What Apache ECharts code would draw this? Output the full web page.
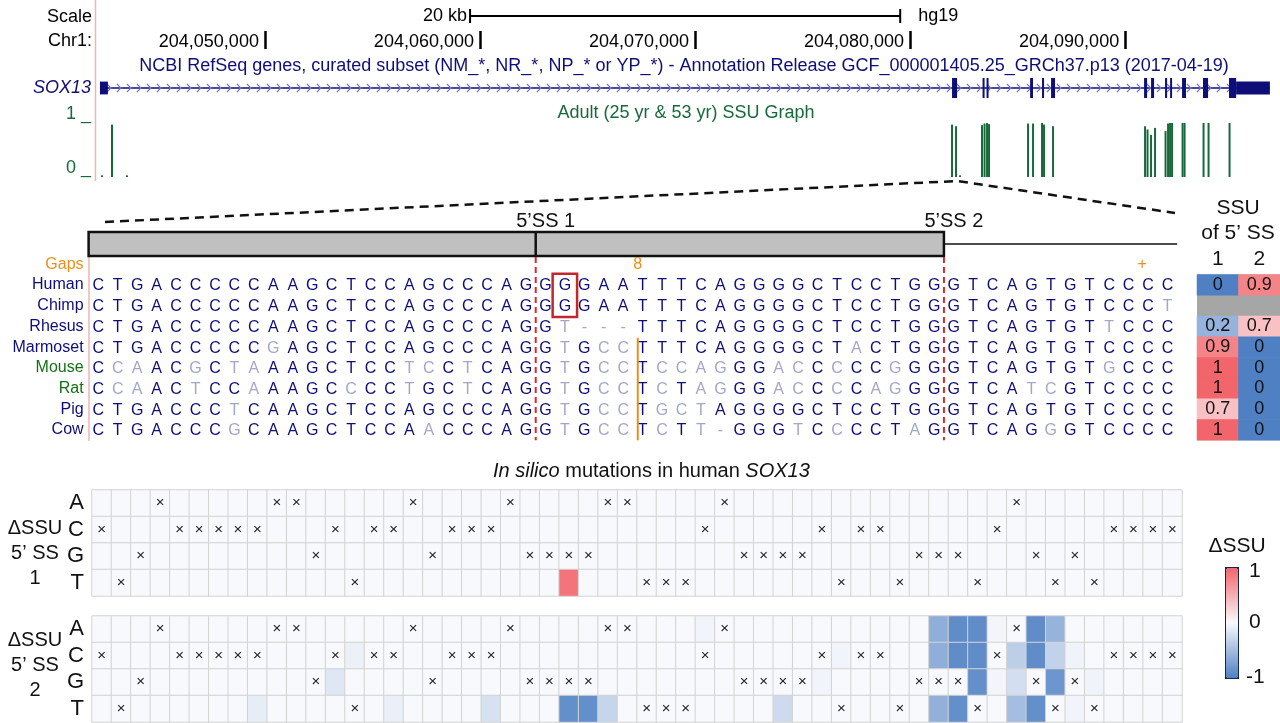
<!DOCTYPE html>
<html>
<head>
<meta charset="utf-8">
<title>SOX13 5' splice site usage</title>
<script src="https://cdn.jsdelivr.net/npm/echarts@6/dist/echarts.min.js"></script>
<style>
  html, body { margin: 0; padding: 0; background: #fff; }
  #chart { width: 1280px; height: 723px; }
</style>
</head>
<body>
<div id="chart"></div>
<script>
// ---- genome browser view (hg19, chr1) ----
const viewStart = 204042100
const viewEnd = 204097200
const rulerTicks = [204050000, 204060000, 204070000, 204080000, 204090000]
const scaleBar = [204059540, 204079540]

// SOX13 exons: [start, end, coding 1 / UTR 0]
const exons = [
  [204042330, 204042700, 0],
  [204081950, 204082185, 1],
  [204083370, 204083440, 1],
  [204083555, 204083625, 1],
  [204085580, 204085715, 1],
  [204086135, 204086230, 1],
  [204086555, 204086740, 1],
  [204090880, 204091020, 1],
  [204091205, 204091345, 1],
  [204091855, 204091950, 1],
  [204092090, 204092180, 1],
  [204092645, 204092830, 1],
  [204093620, 204093855, 1],
  [204094830, 204095160, 1],
  [204095160, 204096730, 0]
]
const geneSpan = [204042330, 204096730]

// adult (25 yr & 53 yr) SSU graph
const ssuPositions = [
  204042425, 204042890, 204043588, 204081950, 204082136, 204082322,
  204083345, 204083462, 204083578, 204083671, 204085484, 204085717,
  204086135, 204086228, 204086647, 204090925, 204091041, 204091204,
  204091390, 204091878, 204091995, 204092088, 204092181, 204092669,
  204092762, 204093645, 204093878, 204094854
]
const ssuValues = [
  0.03, 0.97, 0.03, 0.97, 0.94, 0.03,
  0.96, 0.99, 1.0, 0.98, 0.99, 0.99,
  1.0, 0.97, 0.94, 0.94, 0.88, 0.78,
  0.91, 0.85, 0.99, 1.0, 1.0, 1.0,
  1.0, 1.0, 1.0, 1.0
]

// ---- multiple alignment around the two 5' splice sites ----
const species = ['Human', 'Chimp', 'Rhesus', 'Marmoset', 'Mouse', 'Rat', 'Pig', 'Cow']
const alignment = [
  'CTGACCCCCAAGCTCCAGCCCAG' + 'GGGAATTTCAGGGGCTCCTGG' + 'GTCAGTGTCCCC',
  'CTGACCCCCAAGCTCCAGCCCAG' + 'GGGAATTTCAGGGGCTCCTGG' + 'GTCAGTGTCCCT',
  'CTGACCCCCAAGCTCCAGCCCAG' + 'GT---TTTCAGGGGCTCCTGG' + 'GTCAGTGTTCCC',
  'CTGACCCCCGAGCTCCAGCCCAG' + 'GTGCCTTTCAGGGGCTACTGG' + 'GTCAGTGTCCCC',
  'CCAACGCTAAAGCTCCTCCTCAG' + 'GTGCCTCCAGGGACCCCCGGG' + 'GTCAGTGTGCCC',
  'CCAACTCCAAAGCCCCTGCTCAG' + 'GTGCCTCTAGGGACCCCAGGG' + 'GTCATCGTCCCC',
  'CTGACCCTCAAGCTCCAGCCCAG' + 'GTGCCTGCTAGGGGCTCCTGG' + 'GTCAGTGTCCCC',
  'CTGACCCGCAAGCTCCAACCCAG' + 'GTGCCTCTT-GGGTCCCCTAG' + 'GTCAGGGTCCCC'
]
const spliceSites = [22.5, 43.5]
const spliceNames = ['5\u2019SS 1', '5\u2019SS 2']
const gapMarks = [27.75, 53.7]
const gapLabels = ['8', '+']
const insertion = [27.75, 4, 8]      // column, first row, last row
const highlight = [24, 1, 2]         // column, rows Human..Chimp

// SSU of 5'SS 1 and 2 per species (null = not available)
const ssu1 = [0, null, 0.2, 0.9, 1, 1, 0.7, 1]
const ssu2 = [0.9, null, 0.7, 0, 0, 0, 0, 0]

// ---- in silico mutations in human SOX13: [column, base, dSSU] ----
const bases = ['A', 'C', 'G', 'T']
const deltaSS1 = [[24, 'T', 0.9]]
const deltaSS2 = [
  [8, 'T', -0.1], [12, 'G', -0.15], [13, 'C', -0.07], [15, 'T', -0.08], [20, 'T', -0.2],
  [24, 'T', -0.88], [25, 'T', -0.88], [26, 'T', -0.3], [31, 'A', -0.04], [35, 'T', -0.25],
  [37, 'G', -0.04], [38, 'C', -0.04],
  [43, 'A', -0.62], [44, 'A', -0.9], [45, 'A', -0.9], [46, 'A', -0.03], [48, 'A', -0.9], [49, 'A', -0.58],
  [43, 'C', -0.62], [44, 'C', -0.9], [45, 'C', -0.9], [47, 'C', -0.35], [48, 'C', -0.9], [49, 'C', -0.32], [50, 'C', -0.05],
  [45, 'G', -0.88], [46, 'G', -0.03], [47, 'G', -0.22], [49, 'G', -0.82], [51, 'G', -0.05],
  [43, 'T', -0.6], [44, 'T', -0.88], [47, 'T', -0.5], [48, 'T', -0.88], [50, 'T', -0.04]
]

const NAVY = '#0e0e78'
const LIGHT = '#a3a7c8'
const GREEN = '#17693a'
const ORANGE = '#e8901c'
const FONT = 'Liberation Sans'
const human = alignment[0]
const nCols = human.length

const letterCells = []
alignment.forEach((seq, r) => {
  seq.split('').forEach((ch, c) => {
    letterCells.push({ value: [c, r + 1], ch, diff: ch !== human[c] })
  })
})

function deltaGrid(list) {
  const out = []
  for (let c = 0; c < nCols; c++) {
    bases.forEach((b, bi) => {
      const hit = list.find(d => d[0] === c && d[1] === b)
      out.push([c, bi, hit ? hit[2] : 0])
    })
  }
  return out
}

// missing values are left out; the grey grid background shows through
const tableData = []
species.forEach((s, r) => {
  tableData.push([0, r, ssu1[r] === null ? '-' : ssu1[r]])
  tableData.push([1, r, ssu2[r] === null ? '-' : ssu2[r]])
})

const rowColors = { Gaps: ORANGE, Mouse: '#147014', Rat: '#147014' }
const cols = Array.from({ length: nCols }, (_, i) => String(i))

function txt(text, x, y, opts) {
  return {
    type: 'text', x, y,
    style: Object.assign({ text, fill: '#111', font: '18px "' + FONT + '"', align: 'left', verticalAlign: 'middle' }, opts || {})
  }
}

function bandTop(api) {
  return api.coord([0, 0])[1] - api.size([0, 1])[1] / 2
}

const chart = echarts.init(document.getElementById('chart'))

const heatLabel = {
  show: true,
  fontSize: 15,
  fontFamily: FONT,
  color: '#222',
  formatter: p => (bases[p.value[1]] === human[p.value[0]] ? '\u00d7' : '')
}

const baseAxis = gridIndex => ({
  type: 'category', gridIndex, data: bases, inverse: true,
  axisLine: { show: false }, axisTick: { show: false },
  axisLabel: { interval: 0, fontSize: 22, margin: 8, color: '#111' }
})

chart.setOption({
  animation: false,
  textStyle: { fontFamily: FONT },
  title: {
    text: '{i|In silico} mutations in human {i|SOX13}',
    left: 488,
    top: 456,
    textStyle: {
      fontSize: 20, fontWeight: 'normal', color: '#111', fontFamily: FONT,
      rich: { i: { fontStyle: 'italic', fontSize: 20, color: '#111', fontFamily: FONT } }
    }
  },
  grid: [
    { left: 95, top: 123, width: 1185, height: 54, outerBoundsMode: 'none' },
    { left: 95, top: 78, width: 1185, height: 20, outerBoundsMode: 'none' },
    { left: 95, top: 31, width: 1185, height: 18, outerBoundsMode: 'none' },
    { left: 88.6, top: 254, width: 1088.6, height: 186.3, outerBoundsMode: 'none' },
    { left: 1197, top: 274.6, width: 83, height: 165.6, outerBoundsMode: 'none', show: true, backgroundColor: '#a6a6a6', borderWidth: 0 },
    { left: 92, top: 490, width: 1090, height: 106, outerBoundsMode: 'none' },
    { left: 92, top: 616, width: 1090, height: 106, outerBoundsMode: 'none' }
  ],
  xAxis: [
    { type: 'value', gridIndex: 0, min: viewStart, max: viewEnd, show: false },
    { type: 'value', gridIndex: 1, min: viewStart, max: viewEnd, show: false },
    {
      type: 'value', gridIndex: 2, min: viewStart, max: viewEnd, position: 'bottom',
      axisLine: { show: false }, splitLine: { show: false },
      axisTick: { show: true, customValues: rulerTicks, inside: true, length: 18, lineStyle: { color: '#000', width: 2.5 } },
      axisLabel: {
        show: true, customValues: rulerTicks, inside: true, margin: 7, align: 'right', verticalAlign: 'middle',
        padding: [0, 6, 0, 0], fontSize: 18, color: '#000',
        formatter: v => Number(v).toLocaleString('en-US')
      }
    },
    { type: 'value', gridIndex: 3, min: -0.5, max: nCols - 0.5, show: false },
    {
      type: 'category', gridIndex: 4, data: ['1', '2'], position: 'top',
      axisLine: { show: false }, axisTick: { show: false },
      axisLabel: { interval: 0, fontSize: 21, margin: 5, color: '#111' }
    },
    { type: 'category', gridIndex: 5, data: cols, show: false },
    { type: 'category', gridIndex: 6, data: cols, show: false }
  ],
  yAxis: [
    {
      type: 'value', gridIndex: 0, min: 0, max: 1,
      axisLine: { show: false }, axisTick: { show: false }, splitLine: { show: false },
      axisLabel: { customValues: [0, 1], formatter: '{value} _', verticalAlign: 'bottom', margin: 4, color: GREEN, fontSize: 18 }
    },
    { type: 'value', gridIndex: 1, min: 0, max: 1, show: false },
    { type: 'value', gridIndex: 2, min: 0, max: 1, show: false },
    {
      type: 'category', gridIndex: 3, data: ['Gaps'].concat(species), inverse: true,
      axisLine: { show: false }, axisTick: { show: false },
      axisLabel: { interval: 0, fontSize: 16, margin: 5, color: v => rowColors[v] || NAVY }
    },
    { type: 'category', gridIndex: 4, data: species, inverse: true, show: false },
    baseAxis(5),
    baseAxis(6)
  ],
  visualMap: [
    {
      type: 'continuous', seriesIndex: [10, 11], min: -1, max: 1, calculable: false,
      left: 1225, top: 567, itemWidth: 12, itemHeight: 110, padding: 0,
      borderColor: '#16254a', borderWidth: 2, showLabel: false, hoverLink: false,
      inRange: { color: ['#4f80c4', '#f8f9fc', '#f2656b'] }
    },
    {
      type: 'continuous', seriesIndex: 9, min: 0, max: 1, show: false,
      inRange: { color: ['#4f80c4', '#ffffff', '#f2656b'] }
    }
  ],
  series: [
    {
      type: 'bar', xAxisIndex: 0, yAxisIndex: 0, barWidth: 2,
      itemStyle: { color: GREEN },
      data: ssuPositions.map((p, i) => [p, ssuValues[i]])
    },
    {
      type: 'custom', xAxisIndex: 1, yAxisIndex: 1, data: [geneSpan],
      renderItem: (params, api) => {
        const a = api.coord([api.value(0), 0.5])
        const b = api.coord([api.value(1), 0.5])
        const children = [{ type: 'line', shape: { x1: a[0], y1: a[1], x2: b[0], y2: b[1] }, style: { stroke: NAVY, lineWidth: 1.5 } }]
        for (let x = a[0] + 10; x < b[0] - 4; x += 10) {
          children.push({
            type: 'polyline',
            shape: { points: [[x - 3, a[1] - 4], [x + 1, a[1]], [x - 3, a[1] + 4]] },
            style: { stroke: '#7a7ac4', lineWidth: 1.2, fill: null }
          })
        }
        return { type: 'group', children }
      }
    },
    {
      type: 'custom', xAxisIndex: 1, yAxisIndex: 1, data: exons,
      renderItem: (params, api) => {
        const coding = api.value(2)
        const p0 = api.coord([api.value(0), coding ? 1 : 0.82])
        const p1 = api.coord([api.value(1), coding ? 0 : 0.18])
        return {
          type: 'rect',
          shape: { x: p0[0], y: p0[1], width: Math.max(p1[0] - p0[0], 2), height: p1[1] - p0[1] },
          style: { fill: NAVY }
        }
      }
    },
    {
      type: 'custom', xAxisIndex: 2, yAxisIndex: 2, data: [scaleBar],
      renderItem: (params, api) => {
        const a = api.coord([api.value(0), 1])
        const b = api.coord([api.value(1), 1])
        const y = a[1] - 15
        const kb = Math.round((api.value(1) - api.value(0)) / 1000)
        return {
          type: 'group', children: [
            { type: 'line', shape: { x1: a[0], y1: y, x2: b[0], y2: y }, style: { stroke: '#000', lineWidth: 2 } },
            { type: 'line', shape: { x1: a[0], y1: y - 7, x2: a[0], y2: y + 7 }, style: { stroke: '#000', lineWidth: 2 } },
            { type: 'line', shape: { x1: b[0], y1: y - 7, x2: b[0], y2: y + 7 }, style: { stroke: '#000', lineWidth: 2 } },
            txt(kb + ' kb', a[0] - 3, y, { align: 'right', fill: '#000' }),
            txt('hg19', b[0] + 18, y, { fill: '#000' })
          ]
        }
      }
    },
    {
      type: 'custom', xAxisIndex: 3, yAxisIndex: 3, data: [[-0.5, spliceSites[0], spliceSites[1], nCols - 0.5]],
      renderItem: (params, api) => {
        const top = bandTop(api)
        const x0 = api.coord([api.value(0), 0])[0]
        const xd = api.coord([api.value(1), 0])[0]
        const x1 = api.coord([api.value(2), 0])[0]
        const x2 = api.coord([api.value(3), 0])[0]
        return {
          type: 'group', children: [
            { type: 'rect', shape: { x: x0, y: top - 22, width: x1 - x0, height: 24 }, style: { fill: '#c0c0c0', stroke: '#111', lineWidth: 2.5 } },
            { type: 'line', shape: { x1: xd, y1: top - 22, x2: xd, y2: top + 2 }, style: { stroke: '#111', lineWidth: 2.5 } },
            { type: 'line', shape: { x1: x1, y1: top - 10, x2: x2, y2: top - 10 }, style: { stroke: '#111', lineWidth: 1.5 } }
          ]
        }
      }
    },
    {
      type: 'custom', xAxisIndex: 3, yAxisIndex: 3, data: spliceSites.map(s => [s, 0]),
      renderItem: (params, api) => {
        const rowH = api.size([0, 1])[1]
        const top = bandTop(api)
        const bottom = api.coord([0, species.length])[1] + rowH / 2
        const x = api.coord([api.value(0), 0])[0]
        return {
          type: 'group', children: [
            { type: 'line', shape: { x1: x, y1: top + 3, x2: x, y2: bottom }, style: { stroke: '#d8282c', lineWidth: 2, lineDash: [6, 4] } },
            txt(spliceNames[params.dataIndex], x + 10, top - 33, { align: 'center', font: '20px "' + FONT + '"', fill: '#111' })
          ]
        }
      }
    },
    {
      type: 'custom', xAxisIndex: 3, yAxisIndex: 3, data: letterCells.map(d => d.value),
      renderItem: (params, api) => {
        const cell = letterCells[params.dataIndex]
        const p = api.coord([api.value(0), api.value(1)])
        return {
          type: 'text', x: p[0], y: p[1] + 1,
          style: {
            text: cell.ch, fill: cell.diff ? LIGHT : NAVY, font: '16px "' + FONT + '"',
            align: 'center', verticalAlign: 'middle', textAlign: 'center', textVerticalAlign: 'middle'
          }
        }
      }
    },
    {
      type: 'custom', xAxisIndex: 3, yAxisIndex: 3, data: gapMarks.map(g => [g, 0]),
      renderItem: (params, api) => {
        const p = api.coord([api.value(0), 0])
        return txt(gapLabels[params.dataIndex], p[0], p[1], { align: 'center', fill: ORANGE, font: '16px "' + FONT + '"' })
      }
    },
    {
      type: 'custom', xAxisIndex: 3, yAxisIndex: 3, data: [insertion, highlight],
      renderItem: (params, api) => {
        const rowH = api.size([0, 1])[1]
        const p1 = api.coord([api.value(0), api.value(1)])
        const p2 = api.coord([api.value(0), api.value(2)])
        if (params.dataIndex === 0) {
          return {
            type: 'line', shape: { x1: p1[0], y1: p1[1] - rowH / 2 + 1, x2: p1[0], y2: p2[1] + rowH / 2 },
            style: { stroke: ORANGE, lineWidth: 2 }
          }
        }
        const cw = api.size([1, 0])[0]
        return {
          type: 'rect',
          shape: { x: p1[0] - cw / 2 - 2.5, y: p1[1] - rowH / 2 - 1, width: cw + 5, height: p2[1] - p1[1] + rowH + 2 },
          style: { fill: null, stroke: '#c0282d', lineWidth: 2.5 }
        }
      }
    },
    {
      type: 'heatmap', xAxisIndex: 4, yAxisIndex: 4, data: tableData,
      label: {
        show: true, fontSize: 18, color: '#111',
        formatter: p => String(p.value[2])
      },
      emphasis: { disabled: true }
    },
    {
      type: 'heatmap', xAxisIndex: 5, yAxisIndex: 5, data: deltaGrid(deltaSS1),
      itemStyle: { borderColor: '#d3d3d3', borderWidth: 1 },
      label: heatLabel,
      emphasis: { disabled: true }
    },
    {
      type: 'heatmap', xAxisIndex: 6, yAxisIndex: 6, data: deltaGrid(deltaSS2),
      itemStyle: { borderColor: '#d3d3d3', borderWidth: 1 },
      label: heatLabel,
      emphasis: { disabled: true }
    }
  ]
})

// browser chrome, headings and the zoom lines
const apex = chart.convertToPixel({ xAxisIndex: 0 }, exons[1][1])
chart.setOption({
  graphic: [
    { type: 'line', shape: { x1: 95.5, y1: 0, x2: 95.5, y2: 181 }, style: { stroke: '#f1b4b4', lineWidth: 1.5 } },
    { type: 'line', shape: { x1: 89, y1: 256, x2: 89, y2: 441 }, style: { stroke: '#f1b4b4', lineWidth: 1.5 } },
    txt('Scale', 92, 17, { align: 'right', fill: '#000' }),
    txt('Chr1:', 92, 41, { align: 'right', fill: '#000' }),
    txt('NCBI RefSeq genes, curated subset (NM_*, NR_*, NP_* or YP_*) - Annotation Release GCF_000001405.25_GRCh37.p13 (2017-04-19)',
      684, 66, { align: 'center', fill: NAVY }),
    txt('SOX13', 91, 88, { align: 'right', fill: NAVY, font: 'italic 18px "' + FONT + '"' }),
    txt('Adult (25 yr & 53 yr) SSU Graph', 686, 113, { align: 'center', fill: GREEN }),
    {
      type: 'polyline',
      shape: { points: [[105, 222], [apex, 181], [1175, 213]] },
      style: { stroke: '#111', lineWidth: 2.5, lineDash: [9, 6], fill: null }
    },
    txt('SSU', 1238, 208, { align: 'center', font: '21px "' + FONT + '"' }),
    txt('of 5\u2019 SS', 1238, 233, { align: 'center', font: '21px "' + FONT + '"' }),
    txt('\u0394SSU\n5\u2019 SS\n1', 35, 553, { align: 'center', font: '20px "' + FONT + '"', lineHeight: 25 }),
    txt('\u0394SSU\n5\u2019 SS\n2', 35, 665, { align: 'center', font: '20px "' + FONT + '"', lineHeight: 25 }),
    txt('\u0394SSU', 1237, 546, { align: 'center', font: '21px "' + FONT + '"' }),
    txt('1', 1249, 571, { font: '21px "' + FONT + '"' }),
    txt('0', 1249, 622, { font: '21px "' + FONT + '"' }),
    txt('-1', 1246, 677, { font: '21px "' + FONT + '"' })
  ]
})
</script>
</body>
</html>
